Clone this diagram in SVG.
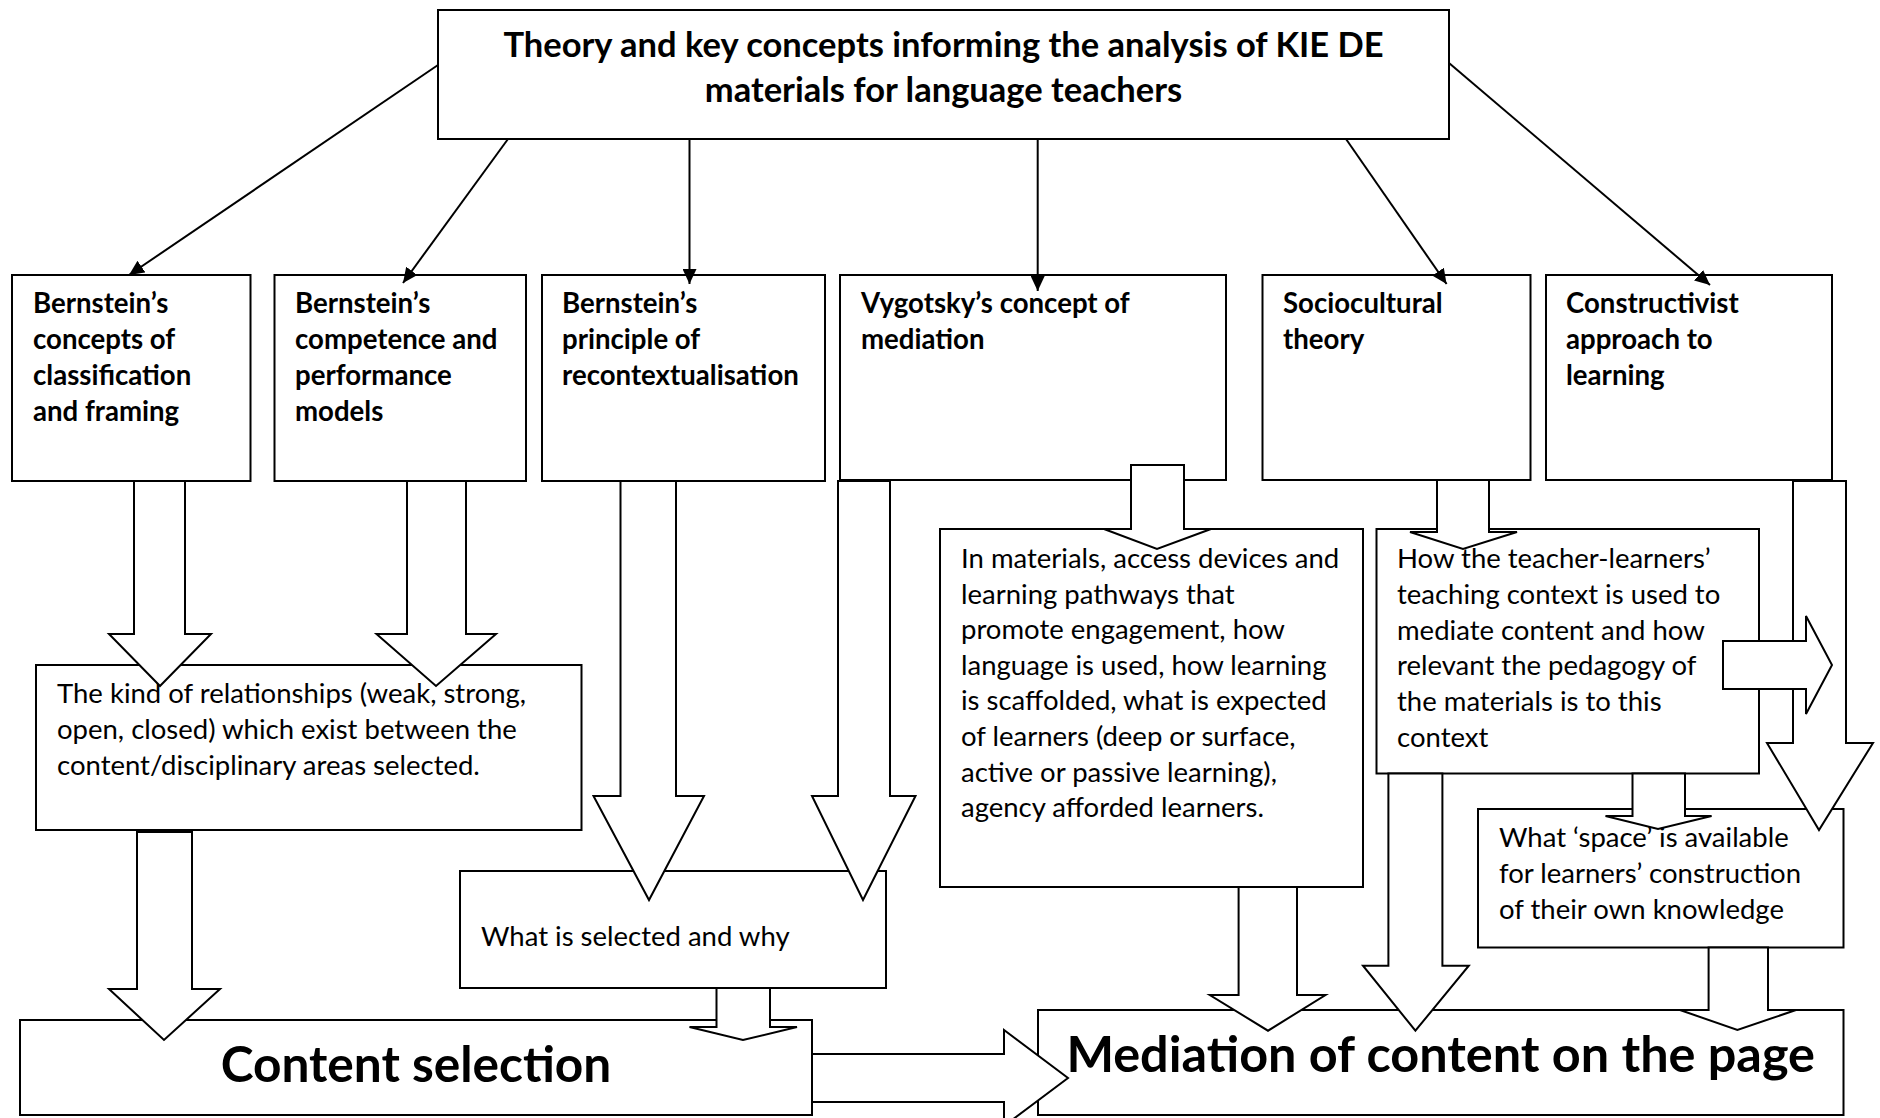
<svg xmlns="http://www.w3.org/2000/svg" width="1880" height="1118" viewBox="0 0 1880 1118">
<style>
  .box { fill: #fff; stroke: #000; stroke-width: 2; }
  .blk { fill: #fff; stroke: #000; stroke-width: 2; stroke-linejoin: miter; }
  .ln { stroke: #000; stroke-width: 2; fill: none; }
  text { font-family: Lato, "Liberation Sans", sans-serif; fill: #000; }
  .title { font-size: 34.5px; font-weight: bold; text-anchor: middle; }
  .head { font-size: 27.6px; font-weight: bold; }
  .body { font-size: 27.5px; }
  .big { font-weight: bold; text-anchor: middle; }
</style>
<defs>
  <marker id="ah" markerUnits="userSpaceOnUse" markerWidth="16" markerHeight="14" refX="15" refY="7" orient="auto">
    <path d="M0,0 L15,7 L0,14 Z" fill="#000"/>
  </marker>
</defs>
<rect width="1880" height="1118" fill="#fff"/>

<g id="top">
  <rect class="box" x="438" y="10" width="1011" height="129"/>
  <text class="title" x="943.5" y="57">Theory and key concepts informing the analysis of KIE DE</text>
  <text class="title" x="943.5" y="102">materials for language teachers</text>
</g>

<g id="n1">
  <rect class="box" x="12" y="275" width="238.5" height="206"/>
  <text class="head" x="33" y="313">Bernstein’s</text>
  <text class="head" x="33" y="349">concepts of</text>
  <text class="head" x="33" y="385">classification</text>
  <text class="head" x="33" y="421">and framing</text>
</g>
<g id="n2">
  <rect class="box" x="274.5" y="275" width="251.5" height="206"/>
  <text class="head" x="295" y="313">Bernstein’s</text>
  <text class="head" x="295" y="349">competence and</text>
  <text class="head" x="295" y="385">performance</text>
  <text class="head" x="295" y="421">models</text>
</g>
<g id="n3">
  <rect class="box" x="542" y="275" width="283" height="206"/>
  <text class="head" x="562" y="313">Bernstein’s</text>
  <text class="head" x="562" y="349">principle of</text>
  <text class="head" x="562" y="385">recontextualisation</text>
</g>
<g id="n4">
  <rect class="box" x="840" y="275" width="386" height="205"/>
  <text class="head" x="861" y="313">Vygotsky’s concept of</text>
  <text class="head" x="861" y="349">mediation</text>
</g>
<g id="n5">
  <rect class="box" x="1262.5" y="275" width="268" height="205"/>
  <text class="head" x="1283" y="313">Sociocultural</text>
  <text class="head" x="1283" y="349">theory</text>
</g>
<g id="n6">
  <rect class="box" x="1546" y="275" width="286" height="205"/>
  <text class="head" x="1566" y="313">Constructivist</text>
  <text class="head" x="1566" y="349">approach to</text>
  <text class="head" x="1566" y="385">learning</text>
</g>

<g id="kind">
  <rect class="box" x="36" y="665" width="545.5" height="165"/>
  <text class="body" x="57" y="703">The kind of relationships (weak, strong,</text>
  <text class="body" x="57" y="739">open, closed) which exist between the</text>
  <text class="body" x="57" y="775">content/disciplinary areas selected.</text>
</g>
<g id="selected">
  <rect class="box" x="460" y="871" width="426" height="117"/>
  <text class="body" x="481" y="946">What is selected and why</text>
</g>
<g id="materials">
  <rect class="box" x="940" y="529" width="423" height="358"/>
  <text class="body" x="961" y="568">In materials, access devices and</text>
  <text class="body" x="961" y="603.6">learning pathways that</text>
  <text class="body" x="961" y="639.2">promote engagement, how</text>
  <text class="body" x="961" y="674.8">language is used, how learning</text>
  <text class="body" x="961" y="710.4">is scaffolded, what is expected</text>
  <text class="body" x="961" y="746">of learners (deep or surface,</text>
  <text class="body" x="961" y="781.6">active or passive learning),</text>
  <text class="body" x="961" y="817.2">agency afforded learners.</text>
</g>
<g id="context">
  <rect class="box" x="1376.5" y="529" width="382.5" height="244.5"/>
  <text class="body" x="1397" y="568">How the teacher-learners’</text>
  <text class="body" x="1397" y="603.8">teaching context is used to</text>
  <text class="body" x="1397" y="639.6">mediate content and how</text>
  <text class="body" x="1397" y="675.4">relevant the pedagogy of</text>
  <text class="body" x="1397" y="711.2">the materials is to this</text>
  <text class="body" x="1397" y="747">context</text>
</g>
<g id="space">
  <rect class="box" x="1478" y="809" width="365.5" height="138.5"/>
  <text class="body" x="1499" y="847">What ‘space’ is available</text>
  <text class="body" x="1499" y="883">for learners’ construction</text>
  <text class="body" x="1499" y="919">of their own knowledge</text>
</g>
<g id="content">
  <rect class="box" x="20" y="1020" width="792" height="95"/>
  <text class="big" x="416" y="1082" font-size="49.6">Content selection</text>
</g>
<g id="mediation">
  <rect class="box" x="1038" y="1010" width="805.5" height="105"/>
  <text class="big" x="1440.7" y="1072" font-size="50.4">Mediation of content on the page</text>
</g>

<g id="connectors">
  <line class="ln" x1="438" y1="65" x2="129" y2="275" marker-end="url(#ah)"/>
  <line class="ln" x1="508" y1="139" x2="403" y2="283" marker-end="url(#ah)"/>
  <line class="ln" x1="689.5" y1="139" x2="689.5" y2="284" marker-end="url(#ah)"/>
  <line class="ln" x1="1037.7" y1="139" x2="1037.7" y2="291" marker-end="url(#ah)"/>
  <line class="ln" x1="1346" y1="139" x2="1446.6" y2="284" marker-end="url(#ah)"/>
  <line class="ln" x1="1449" y1="63" x2="1710" y2="285" marker-end="url(#ah)"/>

  <polygon class="blk" points="134,481 185,481 185,634 211,634 160,686 109,634 134,634"/>
  <polygon class="blk" points="407,481 466,481 466,634 496,634 436,686 376.5,634 407,634"/>
  <polygon class="blk" points="137,832 192,832 192,989 220,989 164,1040 109,989 137,989"/>
  <polygon class="blk" points="620.5,481 676,481 676,796 704,796 649,900 593.5,796 620.5,796"/>
  <polygon class="blk" points="838,481 890,481 890,796 915.5,796 863,900 812,796 838,796"/>
  <polygon class="blk" points="716.5,988 770,988 770,1027 797,1027 743,1040 689.5,1027 716.5,1027"/>
  <polygon class="blk" points="812,1054 1004,1054 1004,1030 1068,1078 1004,1126 1004,1102 812,1102"/>
  <polygon class="blk" points="1131,465 1184,465 1184,529 1211,529 1157,549 1104,529 1131,529"/>
  <polygon class="blk" points="1437,480 1489,480 1489,532 1517,532 1463,549 1410,532 1437,532"/>
  <polygon class="blk" points="1793,481 1846,481 1846,743 1873,743 1819,830 1767,743 1793,743"/>
  <polygon class="blk" points="1723,641 1806,641 1806,616 1832,665 1806,714 1806,689 1723,689"/>
  <polygon class="blk" points="1632.5,773.5 1685,773.5 1685,816 1711.6,816 1658,829 1605.5,816 1632.5,816"/>
  <polygon class="blk" points="1708.6,947.6 1768,947.6 1768,1010 1796,1010 1737.4,1030 1680,1010 1708.6,1010"/>
  <polygon class="blk" points="1238.6,887 1297,887 1297,995 1325.5,995 1268,1030.7 1209.8,995 1238.6,995"/>
  <polygon class="blk" points="1388.4,773.5 1442.4,773.5 1442.4,965.7 1468.8,965.7 1415.4,1030.7 1363,965.7 1388.4,965.7"/>
</g>
</svg>
